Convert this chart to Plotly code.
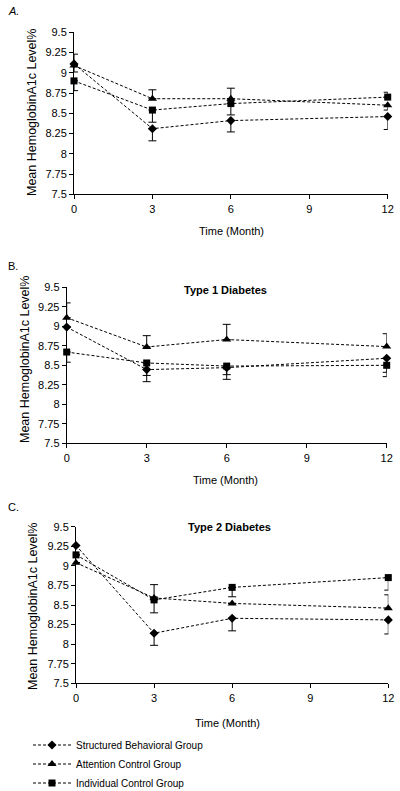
import plotly.graph_objects as go

months = [0, 3, 6, 12]
x_ticks = [0, 3, 6, 9, 12]
y_ticks = [7.5, 7.75, 8, 8.25, 8.5, 8.75, 9, 9.25, 9.5]
y_tick_text = ["7.5", "7.75", "8", "8.25", "8.5", "8.75", "9", "9.25", "9.5"]

group_names = ["Structured Behavioral Group", "Attention Control Group", "Individual Control Group"]

# Panel A (all)
a_structured = [9.11, 8.31, 8.41, 8.46]
a_structured_plus = [0, 0, 0, 0]
a_structured_minus = [0.10, 0.15, 0.14, 0.16]
a_attention = [9.09, 8.68, 8.68, 8.60]
a_attention_plus = [0.14, 0.11, 0.13, 0]
a_attention_minus = [0, 0, 0, 0.06]
a_individual = [8.90, 8.54, 8.62, 8.70]
a_individual_plus = [0, 0, 0, 0.06]
a_individual_minus = [0.12, 0.15, 0.14, 0]

# Panel B (Type 1)
b_structured = [8.99, 8.445, 8.47, 8.59]
b_structured_plus = [0, 0, 0, 0]
b_structured_minus = [0, 0.155, 0.15, 0.18]
b_attention = [9.11, 8.735, 8.83, 8.74]
b_attention_plus = [0.19, 0.145, 0.195, 0.165]
b_attention_minus = [0, 0, 0, 0]
b_individual = [8.67, 8.53, 8.49, 8.50]
b_individual_plus = [0, 0, 0, 0]
b_individual_minus = [0.13, 0.16, 0.11, 0.145]

# Panel C (Type 2)
c_structured = [9.26, 8.14, 8.33, 8.31]
c_structured_plus = [0, 0, 0, 0]
c_structured_minus = [0, 0.155, 0.16, 0.18]
c_attention = [9.04, 8.59, 8.52, 8.46]
c_attention_plus = [0, 0.17, 0, 0.17]
c_attention_minus = [0, 0, 0, 0]
c_individual = [9.14, 8.565, 8.725, 8.85]
c_individual_plus = [0, 0, 0, 0]
c_individual_minus = [0, 0.165, 0.12, 0.16]

symbols = ["diamond", "triangle-up", "square"]
sizes = [7, 8, 7]

W, H = 400, 791
FONT = "Liberation Sans, Arial, sans-serif"

panels = [
    dict(data=[(a_structured, a_structured_plus, a_structured_minus),
               (a_attention, a_attention_plus, a_attention_minus),
               (a_individual, a_individual_plus, a_individual_minus)],
         x0=74, x1=387.7, ytop=32.3, ybot=194.3),
    dict(data=[(b_structured, b_structured_plus, b_structured_minus),
               (b_attention, b_attention_plus, b_attention_minus),
               (b_individual, b_individual_plus, b_individual_minus)],
         x0=66.7, x1=386.7, ytop=287.3, ybot=443.3),
    dict(data=[(c_structured, c_structured_plus, c_structured_minus),
               (c_attention, c_attention_plus, c_attention_minus),
               (c_individual, c_individual_plus, c_individual_minus)],
         x0=76, x1=388.3, ytop=526.7, ybot=683.3),
]

fig = go.Figure()
layout = dict(
    width=W, height=H, margin=dict(l=0, r=0, t=0, b=0, autoexpand=False),
    paper_bgcolor="white", plot_bgcolor="white",
    font=dict(family=FONT, size=11, color="black"),
    showlegend=True,
    legend=dict(x=28 / W, y=1 - 764 / H, xanchor="left", yanchor="middle",
                font=dict(family=FONT, size=10, color="black"),
                bgcolor="rgba(0,0,0,0)", itemwidth=38, tracegroupgap=0),
)

for i, p in enumerate(panels):
    sfx = "" if i == 0 else str(i + 1)
    for j, (vals, plus, minus) in enumerate(p["data"]):
        fig.add_trace(go.Scatter(
            x=months, y=vals, mode="lines+markers",
            name=group_names[j], showlegend=(i == 2),
            xaxis="x" + sfx, yaxis="y" + sfx,
            line=dict(color="black", width=1, dash="3px,2px"),
            marker=dict(symbol=symbols[j], size=sizes[j], color="black"),
            error_y=dict(type="data", symmetric=False, array=plus, arrayminus=minus,
                         color="black", thickness=1, width=4),
            cliponaxis=False,
        ))
    layout["xaxis" + sfx] = dict(
        domain=[p["x0"] / W, p["x1"] / W], range=[0, 12], tickvals=x_ticks,
        anchor="y" + sfx, showline=True, linecolor="black", linewidth=1,
        ticks="outside", ticklen=4, tickcolor="black", showgrid=False, zeroline=False,
        tickfont=dict(size=11), automargin=False,
    )
    layout["yaxis" + sfx] = dict(
        domain=[1 - p["ybot"] / H, 1 - p["ytop"] / H], range=[7.5, 9.5],
        tickvals=y_ticks, ticktext=y_tick_text,
        anchor="x" + sfx, showline=True, linecolor="black", linewidth=1,
        ticks="outside", ticklen=4, tickcolor="black", showgrid=False, zeroline=False,
        tickfont=dict(size=11), automargin=False,
    )

fig.update_layout(**layout)

ann = []
def add_text(text, x, y, **kw):
    ann.append(dict(text=text, x=x / W, y=1 - y / H, xref="paper", yref="paper",
                    showarrow=False, xanchor=kw.pop("xanchor", "center"),
                    yanchor="middle", **kw))

add_text("<i>A.</i>", 6, 11, xanchor="left", font=dict(size=11))
add_text("B.", 6, 266, xanchor="left", font=dict(size=11))
add_text("C.", 6, 507, xanchor="left", font=dict(size=11))
add_text("<b>Type 1 Diabetes</b>", 225, 290, font=dict(size=11))
add_text("<b>Type 2 Diabetes</b>", 229, 527, font=dict(size=11))
add_text("Time (Month)", 231, 231, font=dict(size=11))
add_text("Time (Month)", 226, 480, font=dict(size=11))
add_text("Time (Month)", 228, 723, font=dict(size=11))
add_text("Mean HemoglobinA1c Level%", 32, 113, textangle=-90, font=dict(size=12.5))
add_text("Mean HemoglobinA1c Level%", 25, 360, textangle=-90, font=dict(size=12.5))
add_text("Mean HemoglobinA1c Level%", 33, 607, textangle=-90, font=dict(size=12.5))
fig.update_layout(annotations=ann)

fig.write_html("out.html", config={"displayModeBar": False},
               post_script="document.body.style.margin='0';document.body.style.overflow='hidden';")
